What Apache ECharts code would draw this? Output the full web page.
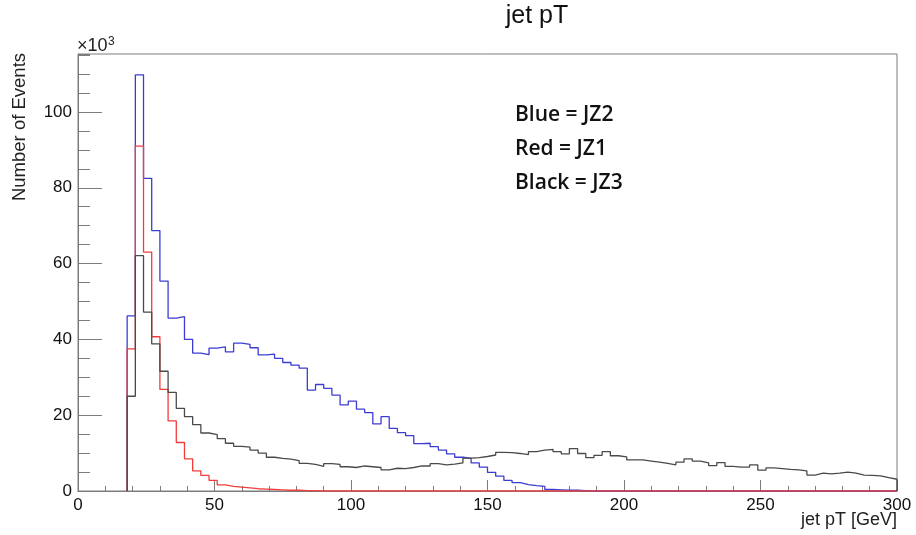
<!DOCTYPE html>
<html>
<head>
<meta charset="utf-8">
<title>jet pT</title>
<script src="https://cdn.jsdelivr.net/npm/echarts@6/dist/echarts.min.js"></script>
<style>
  html, body { margin: 0; padding: 0; background: #ffffff; }
  #chart { width: 916px; height: 535px; }
</style>
</head>
<body>
<div id="chart"></div>
<script>
// Histogram binning: 3 GeV bins; the first filled bin starts at 18 GeV.
const binStart = 18;
const binWidth = 3;
const xRange = [0, 300];

// Entries per bin in thousands (×10^3), starting at the 18 GeV bin.
const jz2Blue = [
  46.2, 109.8, 82.5, 68.7, 55.4, 45.6, 46.0, 40.0, 36.4, 36.0,
  37.7, 38.0, 36.7, 39.0, 38.7, 37.8, 35.9, 36.1, 35.0, 33.9,
  33.2, 32.4, 26.6, 28.1, 27.1, 25.3, 22.7, 23.7, 21.6, 20.7,
  17.7, 19.6, 16.5, 15.4, 14.6, 12.5, 12.6, 11.7, 10.8, 9.8,
  8.9, 8.6, 7.4, 6.3, 4.9, 3.9, 2.8, 2.2, 1.7, 1.4,
  1.2, 0.4, 0.3, 0.2, 0.2, 0.1
];
const jz1Red = [
  37.5, 91.0, 63.0, 40.7, 26.8, 18.5, 12.8, 8.5, 5.3, 4.1,
  2.8, 1.6, 1.2, 1.0, 0.8, 0.6, 0.5, 0.4, 0.3, 0.2,
  0.2, 0.1, 0.1
];
const jz3Black = [
  25.0, 62.1, 47.2, 38.8, 31.6, 26.0, 21.8, 19.6, 17.5, 15.3,
  14.9, 13.8, 12.6, 11.8, 11.6, 10.8, 10.0, 8.9, 8.6, 8.4,
  8.0, 7.3, 7.0, 6.5, 7.2, 7.0, 6.4, 6.2, 6.6, 6.4,
  6.2, 5.6, 6.0, 5.9, 6.2, 6.6, 6.6, 7.2, 6.9, 7.1,
  7.4, 8.7, 8.8, 9.1, 9.5, 10.2, 10.1, 9.9, 9.6, 10.4,
  10.8, 11.0, 10.4, 9.8, 11.2, 9.9, 8.8, 9.4, 10.4, 9.3,
  9.0, 8.2, 8.2, 7.9, 7.6, 7.3, 6.9, 7.6, 8.5, 7.9,
  7.4, 6.7, 7.5, 6.5, 6.3, 6.3, 6.9, 5.5, 6.1, 5.9,
  5.7, 5.6, 5.3, 4.2, 4.7, 4.5, 4.7, 5.0, 4.7, 4.2,
  4.1, 4.0, 3.5, 3.1
];

const legendLines = ['Blue = JZ2', 'Red = JZ1', 'Black = JZ3'];

// Turn bin contents into the outline of a step histogram: one point per
// bin low edge, empty bins up to the end of the axis, and a closing drop.
function histOutline(values) {
  const nBins = Math.round((xRange[1] - binStart) / binWidth);
  const pts = [[binStart, 0]];
  for (let i = 0; i < nBins; i++) {
    pts.push([binStart + i * binWidth, i < values.length ? values[i] : 0]);
  }
  pts.push([xRange[1], 0]);
  return pts;
}

const axisGrey = '#7c7c7c';
const font = 'Liberation Sans, Arial, Helvetica, sans-serif';

function histSeries(name, values, color) {
  return {
    name: name,
    type: 'line',
    step: 'end',
    showSymbol: false,
    symbol: 'none',
    animation: false,
    lineStyle: { color: color, width: 1.3 },
    data: histOutline(values)
  };
}

const chart = echarts.init(document.getElementById('chart'), null, { renderer: 'canvas' });

const yTop = 115.3;

chart.setOption({
  animation: false,
  backgroundColor: '#ffffff',
  title: {
    text: 'jet pT',
    left: 537,
    top: 4,
    textAlign: 'center',
    padding: 0,
    textStyle: { fontFamily: font, fontSize: 25, fontWeight: 'normal', color: '#111' }
  },
  grid: {
    left: 78, right: 19, top: 54, bottom: 44,
    show: true, borderColor: axisGrey, borderWidth: 1, backgroundColor: 'transparent'
  },
  xAxis: {
    type: 'value',
    min: xRange[0], max: xRange[1], interval: 50,
    axisLine: { show: true, lineStyle: { color: axisGrey, width: 1 } },
    axisTick: { show: true, inside: true, length: 11, lineStyle: { color: axisGrey } },
    minorTick: { show: true, splitNumber: 5, length: 5, lineStyle: { color: axisGrey } },
    splitLine: { show: false },
    axisLabel: { color: '#111', fontFamily: font, fontSize: 17, margin: 6 }
  },
  yAxis: [
    {
      type: 'value',
      min: 0, max: yTop, interval: 20,
      axisLine: { show: true, lineStyle: { color: axisGrey, width: 1 } },
      axisTick: { show: true, inside: true, length: 24, lineStyle: { color: axisGrey } },
      splitLine: { show: false },
      axisLabel: {
        color: '#111', fontFamily: font, fontSize: 17, margin: 6,
        showMaxLabel: false,
        formatter: v => (v % 20 === 0 ? String(v) : '')
      }
    },
    {
      type: 'value',
      position: 'left',
      min: 0, max: yTop, interval: 5,
      axisLine: { show: false },
      axisTick: { show: true, inside: true, length: 12, lineStyle: { color: axisGrey } },
      splitLine: { show: false },
      axisLabel: { show: false }
    }
  ],
  series: [
    histSeries('JZ2', jz2Blue, '#3c3cd2'),
    histSeries('JZ1', jz1Red, '#f03c3c'),
    histSeries('JZ3', jz3Black, '#4a4a4a')
  ],
  graphic: [
    {
      type: 'text', x: 77, y: 55,
      style: {
        text: '×10', fontFamily: font, fontSize: 18, fill: '#222',
        textAlign: 'left', textVerticalAlign: 'bottom'
      }
    },
    {
      type: 'text', x: 108, y: 36,
      style: {
        text: '3', fontFamily: font, fontSize: 12, fill: '#222',
        textAlign: 'left', textVerticalAlign: 'top'
      }
    },
    {
      type: 'text', x: 20, y: 127, rotation: Math.PI / 2,
      style: {
        text: 'Number of Events', fontFamily: font, fontSize: 18.5, fill: '#222',
        textAlign: 'center', textVerticalAlign: 'middle'
      }
    },
    {
      type: 'text', x: 897, y: 520,
      style: {
        text: 'jet pT [GeV]', fontFamily: font, fontSize: 18, fill: '#222',
        textAlign: 'right', textVerticalAlign: 'middle'
      }
    },
    ...legendLines.map((t, i) => ({
      type: 'text', x: 515, y: 115 + i * 34,
      style: {
        text: t, fontFamily: 'Open Sans, Noto Sans, sans-serif', fontWeight: 600,
        fontSize: 21, fill: '#111', textAlign: 'left', textVerticalAlign: 'middle'
      }
    }))
  ]
});
</script>
</body>
</html>
